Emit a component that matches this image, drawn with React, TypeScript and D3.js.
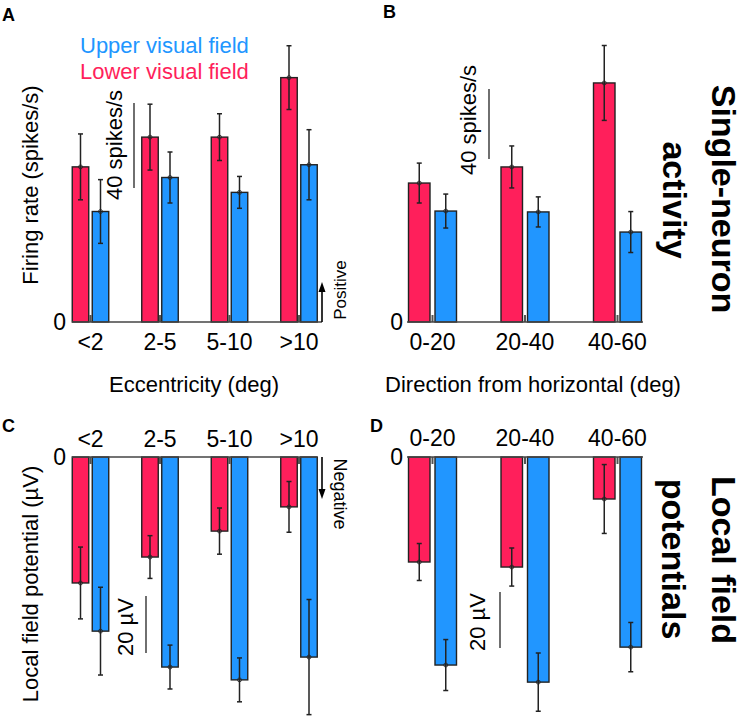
import React from "react";
import * as d3 from "d3";

const FONT = "'Liberation Sans', Arial, Helvetica, sans-serif";
const RED = "#ff1f5b";
const BLUE = "#2196ff";
const INK = "#222";

// Panel A: firing rate by eccentricity (spikes/s)
const eccCats = ["<2", "2-5", "5-10", ">10"];
const aLower = [73, 87, 87, 115];
const aLowerErr = [15.5, 15.5, 11, 15];
const aUpper = [52, 68, 61, 74];
const aUpperErr = [15, 12, 7.5, 16.5];

// Panel B: firing rate by direction (spikes/s)
const dirCats = ["0-20", "20-40", "40-60"];
const bLower = [79.4, 88.6, 136.6];
const bLowerErr = [11.4, 12, 21.4];
const bUpper = [63.4, 62.9, 51.4];
const bUpperErr = [9.7, 8.6, 11.7];

// Panel C: LFP by eccentricity (µV)
const cLower = [-44.2, -35.1, -26, -17.5];
const cLowerErr = [12.6, 7.5, 8.1, 8.9];
const cUpper = [-61.1, -73.7, -78.2, -70.2];
const cUpperErr = [15.4, 7.7, 7.7, 20.2];

// Panel D: LFP by direction (µV)
const dLower = [-37.5, -39.3, -15];
const dLowerErr = [6.6, 6.8, 12.3];
const dUpper = [-74.3, -80.4, -67.9];
const dUpperErr = [9.1, 10.4, 8.8];

type PanelCfg = {
  cats: string[];
  lower: number[];
  lowerErr: number[];
  upper: number[];
  upperErr: number[];
  centers: [number, number];
  axis: [number, number];
  zeroY: number;
  scaleVal: number;
  scaleLen: number;
  barW: number;
  gap: number;
  catY: number;
  zeroLabelX: number;
  zeroLabelY: number;
  scaleBar: { x: number; top: number; label: string; lx: number; ly: number; size: number };
  dirArrow?: { x: number; len: number; label: string; lx: number; ly: number; up: boolean; size: number };
};

function Panel({ cfg }: { cfg: PanelCfg }) {
  const x = d3.scalePoint<string>().domain(cfg.cats).range(cfg.centers);
  const y = d3
    .scaleLinear()
    .domain([0, cfg.scaleVal])
    .range([cfg.zeroY, cfg.zeroY - cfg.scaleLen]);
  const y0 = y(0);
  const neg = cfg.scaleVal < 0;
  const series = [
    { vals: cfg.lower, errs: cfg.lowerErr, color: RED, off: -cfg.gap / 2 - cfg.barW },
    { vals: cfg.upper, errs: cfg.upperErr, color: BLUE, off: cfg.gap / 2 },
  ];
  const sbLen = Math.abs(y(cfg.scaleVal) - y0);
  return (
    <g>
      {cfg.cats.map((c) => (
        <line
          key={"t" + c}
          x1={x(c)!}
          x2={x(c)!}
          y1={y0}
          y2={neg ? y0 + 7 : y0 - 7}
          stroke="#555"
          strokeWidth={2}
        />
      ))}
      {series.map((s, si) =>
        cfg.cats.map((c, i) => {
          const v = s.vals[i];
          const e = s.errs[i];
          const bx = x(c)! + s.off;
          const yv = y(v);
          const cx = bx + cfg.barW / 2;
          return (
            <g key={si + c}>
              <rect
                x={bx}
                y={Math.min(y0, yv)}
                width={cfg.barW}
                height={Math.abs(yv - y0)}
                fill={s.color}
                stroke={INK}
                strokeWidth={1.4}
              />
              <line x1={cx} x2={cx} y1={y(v - e)} y2={y(v + e)} stroke={INK} strokeWidth={1.5} />
              <line x1={cx - 2.5} x2={cx + 2.5} y1={y(v - e)} y2={y(v - e)} stroke={INK} strokeWidth={1.5} />
              <line x1={cx - 2.5} x2={cx + 2.5} y1={y(v + e)} y2={y(v + e)} stroke={INK} strokeWidth={1.5} />
              <circle cx={cx} cy={yv} r={2} fill="none" stroke={INK} strokeWidth={0.8} />
            </g>
          );
        })
      )}
      <line x1={cfg.axis[0]} x2={cfg.axis[1]} y1={y0} y2={y0} stroke="#444" strokeWidth={1.5} />
      <text x={cfg.zeroLabelX} y={cfg.zeroLabelY} textAnchor="end" fontSize={23} fontFamily={FONT}>
        0
      </text>
      {cfg.cats.map((c) => (
        <text key={"l" + c} x={x(c)!} y={cfg.catY} textAnchor="middle" fontSize={23} fontFamily={FONT}>
          {c}
        </text>
      ))}
      <line
        x1={cfg.scaleBar.x}
        x2={cfg.scaleBar.x}
        y1={cfg.scaleBar.top}
        y2={cfg.scaleBar.top + sbLen}
        stroke={INK}
        strokeWidth={1.3}
      />
      <text
        transform={`translate(${cfg.scaleBar.lx},${cfg.scaleBar.ly}) rotate(-90)`}
        textAnchor="middle"
        fontSize={cfg.scaleBar.size}
        fontFamily={FONT}
      >
        {cfg.scaleBar.label}
      </text>
      {cfg.dirArrow && (
        <g>
          <line
            x1={cfg.dirArrow.x}
            x2={cfg.dirArrow.x}
            y1={y0}
            y2={cfg.dirArrow.up ? y0 - cfg.dirArrow.len + 8 : y0 + cfg.dirArrow.len - 8}
            stroke="#000"
            strokeWidth={1.6}
          />
          <path
            d={
              cfg.dirArrow.up
                ? `M${cfg.dirArrow.x - 3.5},${y0 - cfg.dirArrow.len + 10} L${cfg.dirArrow.x},${y0 - cfg.dirArrow.len} L${cfg.dirArrow.x + 3.5},${y0 - cfg.dirArrow.len + 10} Z`
                : `M${cfg.dirArrow.x - 3.5},${y0 + cfg.dirArrow.len - 10} L${cfg.dirArrow.x},${y0 + cfg.dirArrow.len} L${cfg.dirArrow.x + 3.5},${y0 + cfg.dirArrow.len - 10} Z`
            }
            fill="#000"
          />
          <text
            transform={`translate(${cfg.dirArrow.lx},${cfg.dirArrow.ly}) rotate(${cfg.dirArrow.up ? -90 : 90})`}
            textAnchor="middle"
            fontSize={cfg.dirArrow.size}
            fontFamily={FONT}
          >
            {cfg.dirArrow.label}
          </text>
        </g>
      )}
    </g>
  );
}

const panelA: PanelCfg = {
  cats: eccCats,
  lower: aLower,
  lowerErr: aLowerErr,
  upper: aUpper,
  upperErr: aUpperErr,
  centers: [90.5, 299],
  axis: [72, 322],
  zeroY: 322,
  scaleVal: 40,
  scaleLen: 85,
  barW: 16.5,
  gap: 3.5,
  catY: 350,
  zeroLabelX: 66,
  zeroLabelY: 330,
  scaleBar: { x: 134, top: 103, label: "40 spikes/s", lx: 122, ly: 145, size: 22 },
  dirArrow: { x: 322, len: 40, label: "Positive", lx: 346, ly: 290, up: true, size: 17 },
};

const panelB: PanelCfg = {
  cats: dirCats,
  lower: bLower,
  lowerErr: bLowerErr,
  upper: bUpper,
  upperErr: bUpperErr,
  centers: [432.5, 617.5],
  axis: [407, 643],
  zeroY: 322,
  scaleVal: 40,
  scaleLen: 70,
  barW: 21.5,
  gap: 5,
  catY: 350,
  zeroLabelX: 403,
  zeroLabelY: 330,
  scaleBar: { x: 489, top: 89, label: "40 spikes/s", lx: 476, ly: 120, size: 22 },
};

const panelC: PanelCfg = {
  cats: eccCats,
  lower: cLower,
  lowerErr: cLowerErr,
  upper: cUpper,
  upperErr: cUpperErr,
  centers: [90.5, 299],
  axis: [72, 317],
  zeroY: 457,
  scaleVal: -20,
  scaleLen: -57,
  barW: 16.5,
  gap: 3.5,
  catY: 447,
  zeroLabelX: 66,
  zeroLabelY: 465,
  scaleBar: { x: 146, top: 596, label: "20 µV", lx: 133, ly: 627, size: 22 },
  dirArrow: { x: 322, len: 42, label: "Negative", lx: 334, ly: 494, up: false, size: 18 },
};

const panelD: PanelCfg = {
  cats: dirCats,
  lower: dLower,
  lowerErr: dLowerErr,
  upper: dUpper,
  upperErr: dUpperErr,
  centers: [432.5, 617.5],
  axis: [407, 643],
  zeroY: 457,
  scaleVal: -20,
  scaleLen: -56,
  barW: 21.5,
  gap: 5,
  catY: 446,
  zeroLabelX: 403,
  zeroLabelY: 465,
  scaleBar: { x: 500, top: 592, label: "20 µV", lx: 485, ly: 622, size: 22 },
};

export default function App() {
  return (
    <svg
      width={745}
      height={716}
      viewBox="0 0 745 716"
      style={{ position: "absolute", left: 0, top: 0, background: "#fff" }}
    >
      <rect width={745} height={716} fill="#fff" />
      {/* panel letters */}
      <text x={2} y={21} fontSize={18} fontWeight="bold" fontFamily={FONT}>A</text>
      <text x={383} y={18} fontSize={18} fontWeight="bold" fontFamily={FONT}>B</text>
      <text x={2} y={432} fontSize={18} fontWeight="bold" fontFamily={FONT}>C</text>
      <text x={370} y={432} fontSize={18} fontWeight="bold" fontFamily={FONT}>D</text>

      {/* legend */}
      <text x={80} y={53} fontSize={22} fill={BLUE} fontFamily={FONT}>Upper visual field</text>
      <text x={80} y={79} fontSize={22} fill={RED} fontFamily={FONT}>Lower visual field</text>

      <Panel cfg={panelA} />
      <Panel cfg={panelB} />
      <Panel cfg={panelC} />
      <Panel cfg={panelD} />

      {/* axis titles */}
      <text transform="translate(38,185) rotate(-90)" textAnchor="middle" fontSize={22} fontFamily={FONT}>
        Firing rate (spikes/s)
      </text>
      <text transform="translate(38,584) rotate(-90)" textAnchor="middle" fontSize={22} fontFamily={FONT}>
        Local field potential (µV)
      </text>
      <text x={194} y={392} textAnchor="middle" fontSize={22} fontFamily={FONT}>
        Eccentricity (deg)
      </text>
      <text x={533} y={392} textAnchor="middle" fontSize={22} fontFamily={FONT}>
        Direction from horizontal (deg)
      </text>

      {/* row titles */}
      <text transform="translate(712,199) rotate(90)" textAnchor="middle" fontSize={34} fontWeight="bold" fontFamily={FONT}>
        Single-neuron
      </text>
      <text transform="translate(663,200) rotate(90)" textAnchor="middle" fontSize={34} fontWeight="bold" fontFamily={FONT}>
        activity
      </text>
      <text transform="translate(712,560) rotate(90)" textAnchor="middle" fontSize={34} fontWeight="bold" fontFamily={FONT}>
        Local field
      </text>
      <text transform="translate(662,559) rotate(90)" textAnchor="middle" fontSize={34} fontWeight="bold" fontFamily={FONT}>
        potentials
      </text>
    </svg>
  );
}
